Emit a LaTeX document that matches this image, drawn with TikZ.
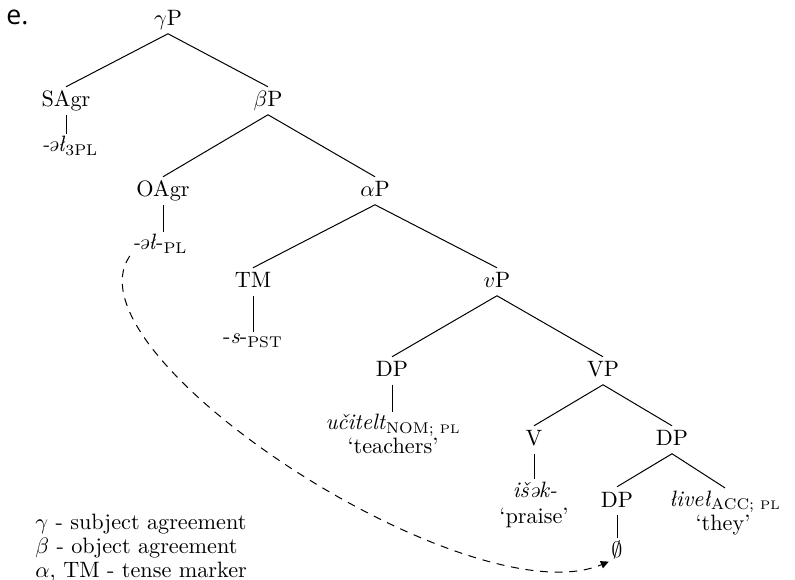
\documentclass[tikz,border=0pt]{standalone}
\usepackage{amsmath}
\usepackage{fontspec}
\newfontfamily\sansfont{Open Sans}
\usetikzlibrary{arrows.meta}
% small-size plural mark inside subscripts
\newcommand{\smallpl}{{\fontsize{5.6}{6}\selectfont PL}}
% hyphen set tight against the following schwa
\newcommand{\hyschwa}{-\kern-1pt ə}
\begin{document}
\begin{tikzpicture}[x=0.45pt,y=-0.45pt,
  cat/.style={anchor=base,inner sep=2pt,text height=1.6ex,text depth=0.3ex},
  morph/.style={anchor=base,inner sep=1pt},
  gloss/.style={anchor=base,inner sep=1pt},
  legend/.style={anchor=base west,inner sep=0pt},
  branch/.style={line width=0.45pt},
  movement/.style={line width=0.45pt,dash pattern=on 3.6pt off 3pt,
    -{Triangle[length=3.6pt,width=3.4pt]}}
]
\useasboundingbox (0,0) rectangle (795,580);

% example label
\node[anchor=base west,inner sep=0pt] (ex) at (6,25) {\sansfont\fontsize{12}{14}\selectfont e.};

% categories
\node[cat] (gP)   at (168,26)  {$\gamma$P};
\node[cat] (sagr) at (66,107)  {SAgr};
\node[cat] (bP)   at (268,107) {$\beta$P};
\node[cat] (oagr) at (163,197) {OAgr};
\node[cat] (aP)   at (375,197) {$\alpha$P};
\node[cat] (tm)   at (253,288) {TM};
\node[cat] (vP)   at (497,288) {$v$P};
\node[cat] (dpa)  at (392,377) {DP};
\node[cat] (VP)   at (603,377) {VP};
\node[cat] (v)    at (534,446) {V};
\node[cat] (dpb)  at (672,446) {DP};
\node[cat] (dpc)  at (617,507) {DP};

% morphemes and words
\node[morph] (sm)    at (70,152)  {\textit{\hyschwa ł}$_{\mathrm{3PL}}$};
\node[morph] (om)    at (160,250) {\textit{\hyschwa ł}-$_{\mathrm{PL}}$};
\node[morph] (tns)   at (253,344) {-\textit{s}-$_{\mathrm{PST}}$};
\node[morph] (ucit)  at (393,430) {\textit{učitelt}$_{\text{NOM; \smallpl}}$};
\node[morph] (isek)  at (535,497) {\textit{išək-}};
\node[morph] (tivel) at (725,506) {\textit{łiveł}$_{\text{ACC; \smallpl}}$};
\node[inner sep=1pt] (nul) at (617,550) {$\emptyset$};

% glosses
\node[gloss] (teach)  at (393,453) {‘teachers’};
\node[gloss] (praise) at (534,523) {‘praise’};
\node[gloss] (they)   at (723,530) {‘they’};

% legend
\node[legend] (lg1) at (35,529) {$\gamma$ - subject agreement};
\node[legend] (lg2) at (35,553) {$\beta$ - object agreement};
\node[legend] (lg3) at (35,577) {$\alpha$, TM - tense marker};

% branches
\draw[branch] (gP.south) -- (sagr.north);
\draw[branch] (gP.south) -- (bP.north);
\draw[branch] (bP.south) -- (oagr.north);
\draw[branch] (bP.south) -- (aP.north);
\draw[branch] (aP.south) -- (tm.north);
\draw[branch] (aP.south) -- (vP.north);
\draw[branch] (vP.south) -- (dpa.north);
\draw[branch] (vP.south) -- (VP.north);
\draw[branch] (VP.south) -- (v.north);
\draw[branch] (VP.south) -- (dpb.north);
\draw[branch] (dpb.south) -- (dpc.north);
\draw[branch] (dpb.south) -- (tivel.north);

% unary lines
\draw[branch] (sagr.south) -- (sagr.south |- sm.north);
\draw[branch] (oagr.south) -- (oagr.south |- om.north);
\draw[branch] (tm.south) -- (tm.south |- tns.north);
\draw[branch] (dpa.south) -- (dpa.south |- ucit.north);
\draw[branch] (v.south) -- (v.south |- isek.north);
\draw[branch] (dpc.south) -- (dpc.south |- nul.north);

% movement
\draw[movement] (om.south west) .. controls (62,355) and (470,620) .. (nul.south west);
\end{tikzpicture}
\end{document}
